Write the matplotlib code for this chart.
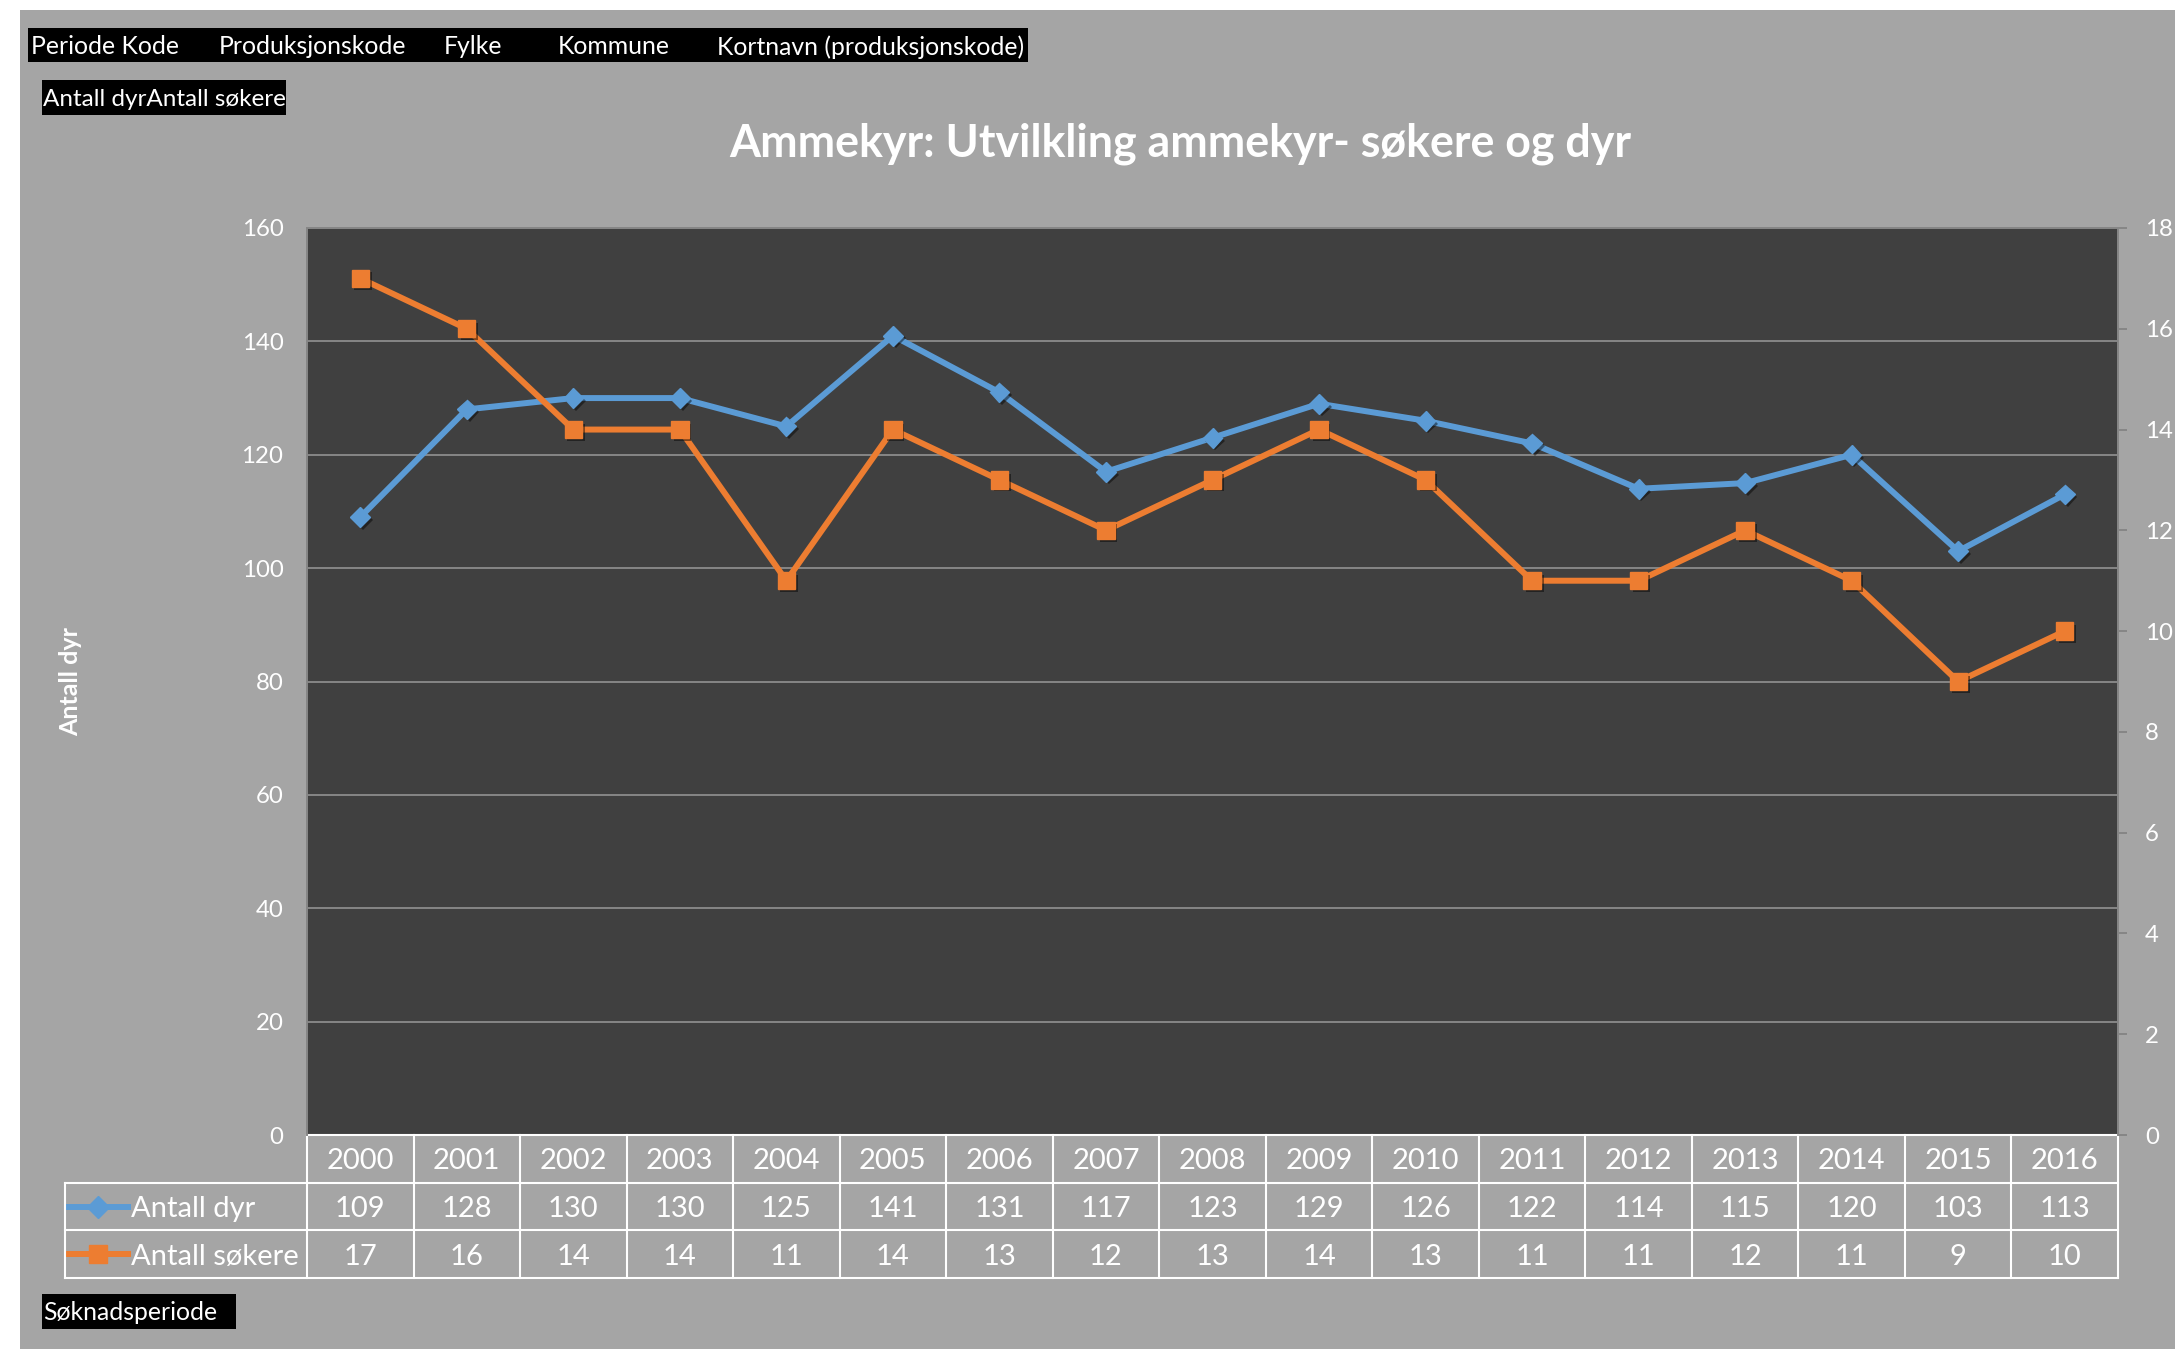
import matplotlib.pyplot as plt
from matplotlib.patches import Rectangle
from matplotlib import patheffects as pe

# ---------------- data ----------------
years         = [str(y) for y in range(2000, 2017)]
antall_dyr    = [109, 128, 130, 130, 125, 141, 131, 117, 123, 129, 126, 122, 114, 115, 120, 103, 113]
antall_sokere = [17, 16, 14, 14, 11, 14, 13, 12, 13, 14, 13, 11, 11, 12, 11, 9, 10]
left_ticks    = list(range(0, 161, 20))
right_ticks   = list(range(0, 19, 2))
header_fields = ["Periode Kode", "Produksjonskode", "Fylke", "Kommune", "Kortnavn (produksjonskode)"]
header_x      = [31, 219, 444, 558, 717]     # pixel offsets of the field buttons
series_labels = ["Antall dyr", "Antall søkere"]
title         = "Ammekyr: Utvilkling ammekyr- søkere og dyr"

# ---------------- style ----------------
W, H     = 2175, 1349
BG       = "#a5a5a5"
PLOT_BG  = "#404040"
GRID     = "#868686"
BLUE     = "#5b9bd5"
ORANGE   = "#ed7d31"

plt.rcParams["font.family"] = ["Lato", "DejaVu Sans"]

def fx(px): return px / W
def fy(py): return 1 - py / H

fig = plt.figure(figsize=(W / 100, H / 100), dpi=100, facecolor="white")
fig.add_artist(Rectangle((fx(20), 0), 1 - fx(20), fy(10), transform=fig.transFigure,
                         facecolor=BG, edgecolor="none", zorder=-10))

def black_box(x0, y0, x1, y1):
    fig.add_artist(Rectangle((fx(x0), fy(y1)), fx(x1) - fx(x0), fy(y0) - fy(y1),
                             transform=fig.transFigure, facecolor="black",
                             edgecolor="none", zorder=1))

# field buttons on top
black_box(28, 28, 1028, 62)
for name, px in zip(header_fields, header_x):
    fig.text(fx(px), fy(47), name, color="white", fontsize=17.8, va="center", ha="left", zorder=2)
black_box(42, 80, 286, 115)
fig.text(fx(43), fy(99), "".join(series_labels), color="white", fontsize=17.5,
         va="center", ha="left", zorder=2)
black_box(42, 1294, 236, 1329)
fig.text(fx(43), fy(1313), "Søknadsperiode", color="white", fontsize=17.8,
         va="center", ha="left", zorder=2)

fig.text(fx(1180), fy(144), title, color="white", fontsize=32.2, fontweight="bold",
         ha="center", va="center")
fig.text(fx(71), fy(682), "Antall dyr", color="white", fontsize=18, fontweight="bold",
         rotation=90, ha="center", va="center")

# ---------------- axes ----------------
ax_l, ax_t, ax_r, ax_b = 307, 228, 2118, 1135
ax = fig.add_axes([fx(ax_l), fy(ax_b), fx(ax_r) - fx(ax_l), fy(ax_t) - fy(ax_b)])
ax.set_facecolor(PLOT_BG)
ax2 = ax.twinx()

x = list(range(len(years)))
shadow = [pe.SimplePatchShadow(offset=(2, -2), shadow_rgbFace="black", alpha=0.45), pe.Normal()]

ax.plot(x, antall_dyr, color=BLUE, lw=4.3, solid_joinstyle="round", zorder=3)
ax.plot(x, antall_dyr, ls="none", marker="D", ms=10, color=BLUE, zorder=4, path_effects=shadow)
ax2.plot(x, antall_sokere, color=ORANGE, lw=4.3, solid_joinstyle="round", zorder=3)
ax2.plot(x, antall_sokere, ls="none", marker="s", ms=12.5, color=ORANGE, zorder=4, path_effects=shadow)

ax.set_yticks(left_ticks)
ax.set_xticks([])
ax.tick_params(axis="y", length=0, pad=17, labelsize=17.3, labelcolor="white")
ax.grid(axis="y", color=GRID, lw=1.4)
ax.set_axisbelow(True)

ax2.set_yticks(right_ticks)
ax2.tick_params(axis="y", length=6.5, width=1.4, color=GRID, pad=13,
                labelsize=17.3, labelcolor="white")

for a in (ax, ax2):
    for s in a.spines.values():
        s.set_color(GRID)
        s.set_linewidth(1.4)
    a.spines["bottom"].set_visible(False)

# ---------------- data table under the plot ----------------
trans = ax.get_xaxis_transform()
col_w = (ax_r - ax_l) / len(years)
rh = 47.7 / (ax_b - ax_t)
dy = 2.5 / (ax_b - ax_t)   # text sits a touch below the cell centre
x_leg = -0.5 - (ax_l - 65) / col_w
n = len(years)
tl = dict(color="white", lw=1.5, transform=trans, clip_on=False, zorder=5)

ax.plot([-0.5, n - 0.5], [0, 0], **tl)
for k in (1, 2, 3):
    ax.plot([x_leg, n - 0.5], [-k * rh, -k * rh], **tl)
for k in range(n + 1):
    ax.plot([k - 0.5, k - 0.5], [0, -3 * rh], **tl)
ax.plot([x_leg, x_leg], [-rh, -3 * rh], **tl)

txt = dict(color="white", fontsize=21, ha="center", va="center", transform=trans, clip_on=False)
for i in x:
    ax.text(i, -0.5 * rh - dy, years[i], **txt)
    ax.text(i, -1.5 * rh - dy, str(antall_dyr[i]), **txt)
    ax.text(i, -2.5 * rh - dy, str(antall_sokere[i]), **txt)

key_x0 = -0.5 + (69 - ax_l) / col_w
key_x1 = -0.5 + (128 - ax_l) / col_w
lab_x = -0.5 + (131 - ax_l) / col_w
for row, (lab, col, mk, ms) in enumerate(zip(series_labels, [BLUE, ORANGE], ["D", "s"], [11, 12.5])):
    yy = -(row + 1.5) * rh
    ax.plot([key_x0, key_x1], [yy, yy], color=col, lw=4.3, transform=trans, clip_on=False)
    ax.plot([(key_x0 + key_x1) / 2], [yy], marker=mk, ms=ms, color=col,
            transform=trans, clip_on=False)
    ax.text(lab_x, yy - dy, lab, color="white", fontsize=21, ha="left", va="center",
            transform=trans, clip_on=False)

ax.set_xlim(-0.5, n - 0.5)
ax.set_ylim(0, 160)
ax2.set_ylim(0, 18)

fig.savefig("out.png", dpi=100, facecolor=fig.get_facecolor())
